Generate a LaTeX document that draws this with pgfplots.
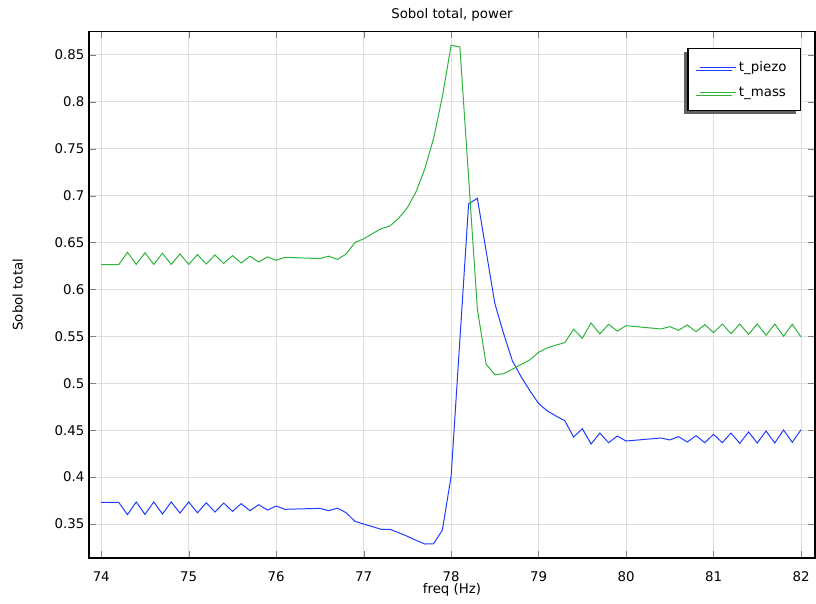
\documentclass[border=0pt]{standalone}
\usepackage{fontspec}
\setmainfont{DejaVu Sans}
\usepackage{pgfplots}
\pgfplotsset{compat=1.18}
\usetikzlibrary{shadows}

\definecolor{cblue}{RGB}{30,60,255}
\definecolor{cgreen}{RGB}{45,180,60}
\definecolor{gridgray}{RGB}{222,222,222}

\pgfplotstableread{
f s
74.0 0.3731
74.2 0.3731
74.3 0.3600
74.4 0.3735
74.5 0.3603
74.6 0.3735
74.7 0.3607
74.8 0.3735
74.9 0.3617
75.0 0.3735
75.1 0.3620
75.2 0.3727
75.3 0.3628
75.4 0.3724
75.5 0.3635
75.6 0.3717
75.7 0.3642
75.8 0.3706
75.9 0.3649
76.0 0.3692
76.1 0.3657
76.5 0.3667
76.6 0.3642
76.7 0.3670
76.8 0.3620
76.9 0.3529
77.0 0.3500
77.1 0.3472
77.2 0.3444
77.3 0.3444
77.4 0.3408
77.5 0.3369
77.6 0.3326
77.7 0.3287
77.8 0.3290
77.9 0.3436
78.0 0.4010
78.2 0.6912
78.3 0.6972
78.4 0.6410
78.5 0.5850
78.6 0.5530
78.7 0.5240
78.8 0.5070
78.9 0.4921
79.0 0.4785
79.1 0.4705
79.2 0.4651
79.3 0.4601
79.4 0.4427
79.5 0.4516
79.6 0.4353
79.7 0.4470
79.8 0.4367
79.9 0.4438
80.0 0.4385
80.4 0.4417
80.5 0.4396
80.6 0.4431
80.7 0.4374
80.8 0.4442
80.9 0.4367
81.0 0.4456
81.1 0.4367
81.2 0.4470
81.3 0.4360
81.4 0.4481
81.5 0.4364
81.6 0.4492
81.7 0.4364
81.8 0.4502
81.9 0.4371
82.0 0.4505
}\piezo

\pgfplotstableread{
f s
74.0 0.6264
74.2 0.6264
74.3 0.6396
74.4 0.6267
74.5 0.6392
74.6 0.6267
74.7 0.6386
74.8 0.6267
74.9 0.6379
75.0 0.6267
75.1 0.6372
75.2 0.6271
75.3 0.6368
75.4 0.6278
75.5 0.6361
75.6 0.6282
75.7 0.6354
75.8 0.6293
75.9 0.6347
76.0 0.6311
76.1 0.6343
76.5 0.6329
76.6 0.6355
76.7 0.6320
76.8 0.6378
76.9 0.6500
77.0 0.6540
77.1 0.6595
77.2 0.6648
77.3 0.6677
77.4 0.6759
77.5 0.6872
77.6 0.7043
77.7 0.7288
77.8 0.7612
77.9 0.8056
78.0 0.8603
78.1 0.8585
78.2 0.7190
78.3 0.5790
78.4 0.5204
78.5 0.5092
78.6 0.5102
78.7 0.5150
78.8 0.5200
78.9 0.5250
79.0 0.5330
79.1 0.5378
79.2 0.5408
79.3 0.5433
79.4 0.5576
79.5 0.5480
79.6 0.5643
79.7 0.5526
79.8 0.5629
79.9 0.5557
80.0 0.5614
80.4 0.5579
80.5 0.5604
80.6 0.5565
80.7 0.5622
80.8 0.5550
80.9 0.5625
81.0 0.5540
81.1 0.5632
81.2 0.5529
81.3 0.5632
81.4 0.5522
81.5 0.5632
81.6 0.5512
81.7 0.5632
81.8 0.5501
81.9 0.5629
82.0 0.5494
}\mass

\begin{document}
\begin{tikzpicture}
\begin{axis}[
  name=ax,
  scale only axis,
  width=544.5pt, height=394.9pt,
  xmin=73.86, xmax=82.16,
  ymin=0.3138, ymax=0.875,
  xtick={74,...,82},
  ytick={0.35,0.4,...,0.86},
  /pgf/number format/assume math mode=true,
  tick label style={font=\fontsize{10}{12}\selectfont},
  label style={font=\fontsize{10}{12}\selectfont},
  title style={font=\fontsize{10}{12}\selectfont, yshift=-2pt},
  title={Sobol total, power},
  xlabel={freq (Hz)},
  ylabel={Sobol total},
  xlabel style={yshift=5.5pt},
  ylabel style={yshift=17pt},
  xticklabel style={yshift=-6.5pt},
  tick align=inside,
  major tick length=5pt,
  axis line style={line width=0.9pt},
  grid=major,
  major grid style={gridgray, line width=0.7pt},
  legend cell align=left,
  legend style={at={(1,1)}, anchor=north east, xshift=-10.5pt, yshift=-12.4pt,
    draw=black, line width=0.9pt, fill=white,
    font=\fontsize{10}{12}\selectfont,
    inner xsep=8.5pt, inner ysep=7.5pt, row sep=6pt,
    drop shadow={shadow xshift=-3pt, shadow yshift=-2.5pt, fill=gray!75!black, opacity=1},
    /tikz/every even column/.append style={column sep=3pt}},
  legend image code/.code={\draw[#1, line width=0.75pt] (0pt,0pt) -- (27pt,0pt);},
]
\addplot[draw=cblue, line width=0.75pt] table[x=f, y=s] {\piezo};
\addplot[draw=cgreen, line width=0.75pt] table[x=f, y=s] {\mass};
\legend{t\_piezo, t\_mass}
\end{axis}
\pgfresetboundingbox
\path[use as bounding box] ([shift={(-66.75pt,-33.75pt)}]ax.south west) rectangle ++(612pt,452.25pt);
\end{tikzpicture}
\end{document}
